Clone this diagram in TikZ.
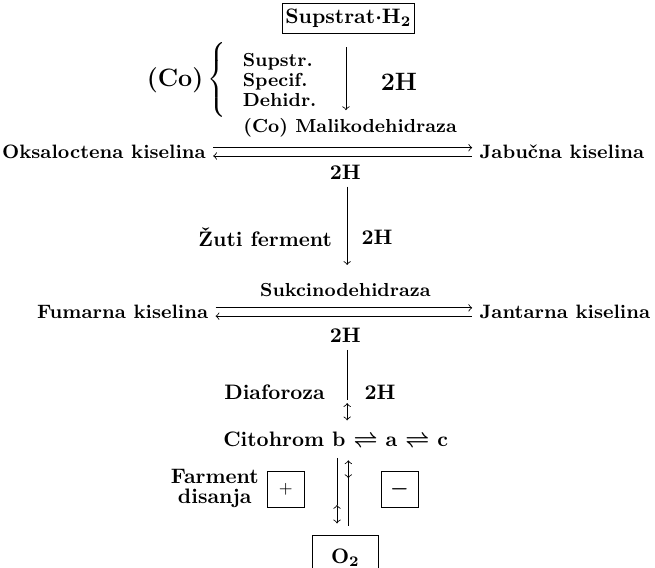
\documentclass[tikz,border=0pt]{standalone}
\usepackage{tikz}

\begin{document}
\begin{tikzpicture}[
    every node/.style={font=\bfseries\boldmath},
    lbl/.style={font=\bfseries\boldmath\small},
    row/.style={text height=1.6ex, text depth=0.2ex, font=\bfseries\fontsize{9.25}{11}\selectfont},
    frame/.style={draw, inner sep=0pt}]
\useasboundingbox (0,0) rectangle (11.0,-9.53);

% Substrate and dehydrogenase
\node[frame, minimum width=2.23cm, minimum height=0.49cm] (sub) at (5.85,-0.31) {Supstrat$\cdot$H$_2$};
\node[font=\bfseries\boldmath\large] (co) at (2.94,-1.34) {(Co)};
\node (brace) at (3.66,-1.34) {$\left\{\vrule height 0.52cm depth 0.52cm width 0pt\right.$};
\node[anchor=west, align=left, inner sep=0pt, font=\bfseries\fontsize{9}{9.6}\selectfont] (spec) at (4.07,-1.34) {Supstr.\\Specif.\\Dehidr.};
\coordinate (s1) at (5.81,-0.79);
\coordinate (s2) at (5.81,-1.85);
\draw[->] (s1) -- (s2);
\node[font=\bfseries\boldmath\large] (hbig) at (6.70,-1.38) {2H};

% Malate
\node[lbl] (malik) at (5.88,-2.15) {(Co) Malikodehidraza};
\node[row, anchor=east] (oks) at (3.58,-2.55) {Oksaloctena kiselina};
\node[row, anchor=west] (jab) at (7.93,-2.55) {Jabučna kiselina};
\draw[->] ([yshift=0.07cm]oks.east) -- ([yshift=0.07cm]jab.west);
\draw[<-] ([yshift=-0.07cm]oks.east) -- ([yshift=-0.07cm]jab.west);

% Yellow enzyme
\node (h2a) at (5.80,-2.89) {2H};
\coordinate (z1) at (5.83,-4.45);
\draw[->] (h2a.south -| z1) -- (z1);
\node[anchor=east] (zuti) at (5.70,-3.98) {Žuti ferment};
\node[anchor=west] (h2zr) at (5.95,-3.98) {2H};

% Succinate
\node[lbl] (sukc) at (5.80,-4.87) {Sukcinodehidraza};
\node[row, anchor=east] (fum) at (3.62,-5.24) {Fumarna kiselina};
\node[row, anchor=west] (jant) at (7.93,-5.24) {Jantarna kiselina};
\draw[->] ([yshift=0.07cm]fum.east) -- ([yshift=0.07cm]jant.west);
\draw[<-] ([yshift=-0.07cm]fum.east) -- ([yshift=-0.07cm]jant.west);

% Diaphorase
\node (h2c) at (5.80,-5.63) {2H};
\coordinate (d1) at (5.83,-6.72);
\coordinate (d2) at (5.83,-6.77);
\coordinate (d3) at (5.83,-7.06);
\draw (h2c.south -| d1) -- (d1);
\draw[<->] (d2) -- (d3);
\node[anchor=east] (diaf) at (5.58,-6.59) {Diaforoza};
\node[anchor=west] (h2dr) at (6.00,-6.59) {2H};

% Cytochromes and oxygen
\node[anchor=east] (cit) at (7.65,-7.39) {Citohrom b $\rightleftharpoons$ a $\rightleftharpoons$ c};
\coordinate (l1) at (5.66,-7.69);
\coordinate (l2) at (5.66,-8.48);
\coordinate (l3) at (5.66,-8.79);
\draw (l1) -- (l2);
\draw[<->] (l2) -- (l3);
\coordinate (r1) at (5.85,-7.73);
\coordinate (r2) at (5.85,-8.03);
\coordinate (r3) at (5.85,-8.84);
\draw[<->] (r1) -- (r2);
\draw (r2) -- (r3);
\node[anchor=east, align=center, font=\bfseries\fontsize{10}{9.6}\selectfont] (ferm) at (4.47,-8.20) {Farment\\disanja};
\node[frame, minimum width=0.62cm, minimum height=0.59cm, font=\footnotesize] (plus) at (4.80,-8.22) {$+$};
\node[frame, minimum width=0.62cm, minimum height=0.59cm] (minus) at (6.71,-8.22) {$-$};
\node[frame, minimum width=1.11cm, minimum height=0.75cm] (oxy) at (5.80,-9.36) {O$_2$};
\end{tikzpicture}
\end{document}
